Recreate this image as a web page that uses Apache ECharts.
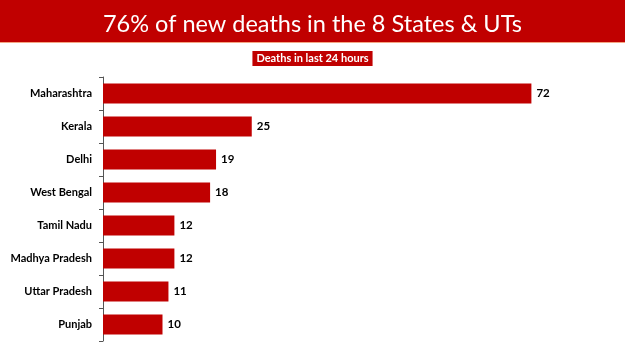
<!DOCTYPE html>
<html>
<head>
<meta charset="utf-8">
<script src="https://cdn.jsdelivr.net/npm/echarts@6/dist/echarts.min.js"></script>
<style>
  html, body { margin: 0; padding: 0; background: #fff; }
  #main { width: 625px; height: 351px; }
</style>
</head>
<body>
<div id="main"></div>
<script>
// 数据
var states = ["Maharashtra", "Kerala", "Delhi", "West Bengal", "Tamil Nadu", "Madhya Pradesh", "Uttar Pradesh", "Punjab"];
var deaths = [72, 25, 19, 18, 12, 12, 11, 10];

var red = '#c00000';
var myChart = echarts.init(document.getElementById('main'));

var option = {
    animation: false,
    title: [{
        text: '76% of new deaths in the 8 States & UTs',
        left: 'center',
        top: 7,
        textStyle: { color: '#fff', fontFamily: 'Lato', fontWeight: 'normal', fontSize: 23.5 }
    }, {
        text: 'Deaths in last 24 hours',
        left: 'center',
        top: 51,
        backgroundColor: red,
        padding: [2, 4, 2, 4],
        textStyle: { color: '#fff', fontFamily: 'Lato', fontWeight: 'bold', fontSize: 11 }
    }],
    graphic: [{
        type: 'rect',
        z: -1,
        shape: { x: 0, y: 0, width: 625, height: 42 },
        style: { fill: red }
    }, {
        type: 'rect',
        z: -1,
        shape: { x: 0, y: 42, width: 625, height: 1 },
        style: { fill: '#f4a582' }
    }],
    grid: {
        left: 103,
        right: 46,
        top: 77,
        bottom: 10
    },
    xAxis: {
        type: 'value',
        min: 0,
        max: 80,
        show: false
    },
    yAxis: {
        type: 'category',
        inverse: true,
        data: states,
        axisLine: { show: true, lineStyle: { color: '#555', width: 1 } },
        axisTick: { show: true, length: 4, lineStyle: { color: '#555' } },
        axisLabel: {
            margin: 11,
            color: '#000',
            fontFamily: 'Lato',
            fontWeight: 'bold',
            fontSize: 11
        }
    },
    series: [{
        type: 'bar',
        data: deaths,
        barWidth: '60%',
        itemStyle: { color: red },
        label: {
            show: true,
            position: 'right',
            distance: 5,
            color: '#000',
            fontFamily: 'Lato',
            fontWeight: 'bold',
            fontSize: 11.5
        }
    }]
};
myChart.setOption(option);
</script>
</body>
</html>
